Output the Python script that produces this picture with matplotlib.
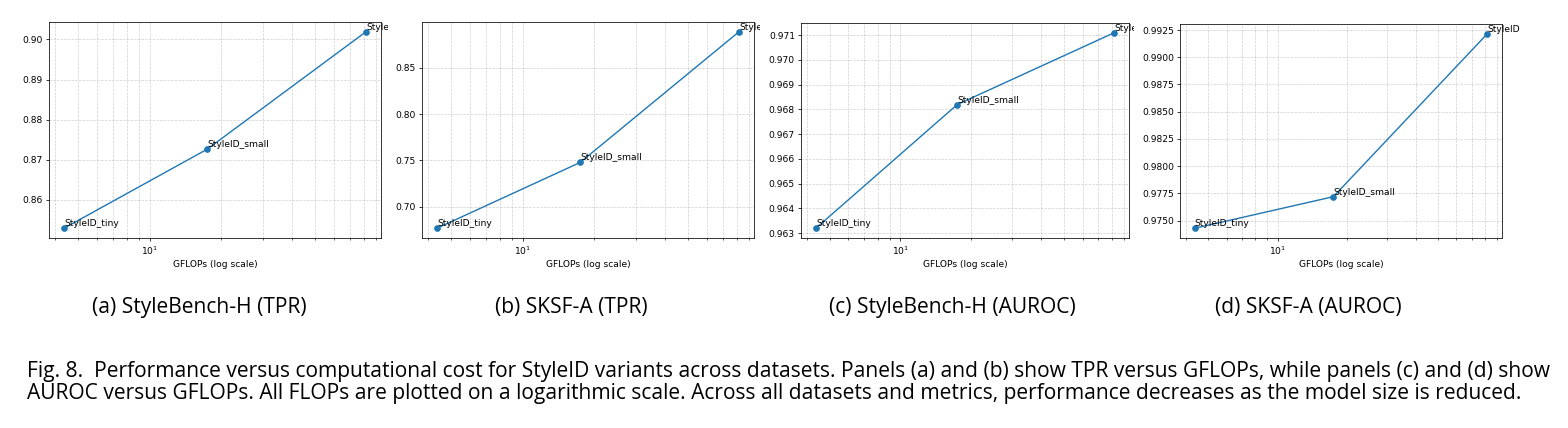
import matplotlib
matplotlib.use("Agg")
import matplotlib.pyplot as plt
from matplotlib.transforms import Bbox, TransformedBbox

plt.rc('font', size=6.6)

# data
models = ["StyleID_tiny", "StyleID_small", "StyleID"]
gflops = [4.36, 17.5, 81.8]

tpr_stylebench = [0.8529, 0.8726, 0.9019]
tpr_sksf = [0.6766, 0.7477, 0.8890]
auroc_stylebench = [0.9632, 0.9682, 0.9711]
auroc_sksf = [0.9743, 0.9772, 0.99216]

yticks_a = [0.86, 0.87, 0.88, 0.89, 0.90]
yticks_b = [0.70, 0.75, 0.80, 0.85]
yticks_c = [0.963, 0.964, 0.965, 0.966, 0.967, 0.968, 0.969, 0.970, 0.971]
yticks_d = [0.9750, 0.9775, 0.9800, 0.9825, 0.9850, 0.9875, 0.9900, 0.9925]

subcaptions = ["(a) StyleBench-H (TPR)", "(b) SKSF-A (TPR)",
               "(c) StyleBench-H (AUROC)", "(d) SKSF-A (AUROC)"]
caption1 = ("Fig. 8.  Performance versus computational cost for StyleID variants across datasets. "
            "Panels (a) and (b) show TPR versus GFLOPs, while panels (c) and (d) show")
caption2 = ("AUROC versus GFLOPs. All FLOPs are plotted on a logarithmic scale. "
            "Across all datasets and metrics, performance decreases as the model size is reduced.")

W, H = 1568, 428
fig = plt.figure(figsize=(W / 100, H / 100), dpi=100)
capfont = 'Open Sans'

# pixel boxes (left, top, right, bottom), caption centre, clip range
panels = [
    (tpr_stylebench, yticks_a, (49, 22, 381, 238), 199, (0, 388)),
    (tpr_sksf, yticks_b, (422, 22, 754, 238), 571, (400, 760)),
    (auroc_stylebench, yticks_c, (801, 23, 1129, 238), 952, (780, 1134)),
    (auroc_sksf, yticks_d, (1180, 24, 1502, 238), 1308, (1160, 1568)),
]

captexts = []
for (vals, yt, (l, t, r, b), cx, (c0, c1)), sub in zip(panels, subcaptions):
    ax = fig.add_axes([l / W, 1 - b / H, (r - l) / W, (b - t) / H])
    ax.plot(gflops, vals, marker='o', color='#1f77b4', lw=1.0, ms=3.8)
    ax.set_xscale('log')
    ax.set_yticks(yt)
    ax.grid(True, which='both', linestyle='--', linewidth=0.5, color='#b0b0b0', alpha=0.6)
    ax.set_xlabel("GFLOPs (log scale)", labelpad=2.7)
    ax.tick_params(which='major', length=2.4, width=0.55, pad=2.0)
    ax.tick_params(which='minor', length=1.4, width=0.45)
    for s in ax.spines.values():
        s.set_linewidth(0.55)
    clip = TransformedBbox(Bbox([[c0 / W, 0], [c1 / W, 1]]), fig.transFigure)
    for x, y, name in zip(gflops, vals, models):
        txt = ax.text(x, y, name, va='bottom', ha='left')
        txt.set_clip_box(clip)
        txt.set_clip_on(True)
    captexts.append(fig.text(cx / W, 1 - 313 / H, sub, ha='center', va='baseline',
                             family=capfont, fontsize=14))

c1t = fig.text(27 / W, 1 - 377 / H, caption1, ha='left', va='baseline', family=capfont, fontsize=14)
c2t = fig.text(27 / W, 1 - 399 / H, caption2, ha='left', va='baseline', family=capfont, fontsize=14)
captexts += [c1t, c2t]

# scale caption size so the second line spans the same width as in the paper
rend = fig.canvas.get_renderer()
w2 = c2t.get_window_extent(rend).width
fs = 14 * 1509 / w2
for t in captexts:
    t.set_fontsize(fs)

fig.savefig("out.png", dpi=100)
